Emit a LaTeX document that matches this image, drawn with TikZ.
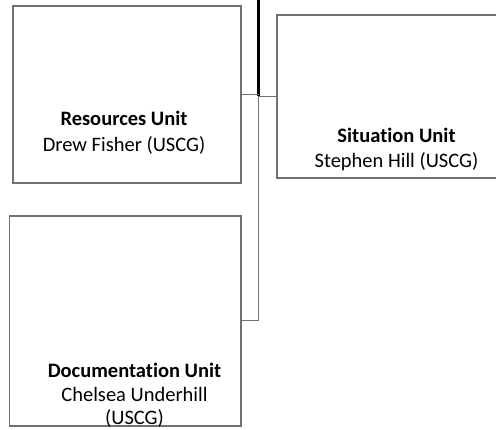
\documentclass[tikz,border=0pt]{standalone}
\usepackage{fontspec}
\setmainfont{Carlito}[Ligatures=NoCommon]
\definecolor{boxline}{HTML}{707070}
\begin{document}
\begin{tikzpicture}[x=1pt,y=-1pt,
  unitbox/.style={draw=boxline,line width=1.4pt,fill=white},
  conn/.style={draw=boxline,line width=1.4pt},
  lbl/.style={anchor=base,inner sep=0pt,font=\fontsize{20.5}{24}\selectfont},
  lblb/.style={lbl,font=\fontsize{20.5}{24}\selectfont\bfseries}]
\useasboundingbox (0,0) rectangle (496,430);
\clip (0,0) rectangle (496,430);
% boxes
\node[unitbox,minimum width=228pt,minimum height=177pt,inner sep=0pt] (res) at (127,94.5) {};
\node[unitbox,minimum width=239pt,minimum height=163pt,inner sep=0pt] (sit) at (396.5,96.5) {};
\node[unitbox,minimum width=231.5pt,minimum height=210pt,inner sep=0pt] (doc) at (125.25,321) {};
% connector spine
\coordinate (top) at (258.5,0);
\coordinate (mid) at (258.5,96.5);
\coordinate (bot) at (258.5,320.5);
\draw[line width=2.2pt,black] (top) -- (mid);
\draw[conn] (mid) -- (bot);
\draw[conn] (res.east |- 0,94.3) -- (258.5,94.3);
\draw[conn] (mid) -- (sit.west |- mid);
\draw[conn] (doc.east |- bot) -- (bot);
% labels
\node[lblb] (resT) at (124,126) {Resources Unit};
\node[lbl] (resN) at (124,152) {Drew Fisher (USCG)};
\node[lblb] (sitT) at (396.5,143) {Situation Unit};
\node[lbl] (sitN) at (396.5,167.5) {Stephen Hill (USCG)};
\node[lblb] (docT) at (134.5,377.5) {Documentation Unit};
\node[lbl] (docN) at (134.5,401.5) {Chelsea Underhill};
\node[lbl] (docU) at (134.5,425) {(USCG)};
\end{tikzpicture}
\end{document}
